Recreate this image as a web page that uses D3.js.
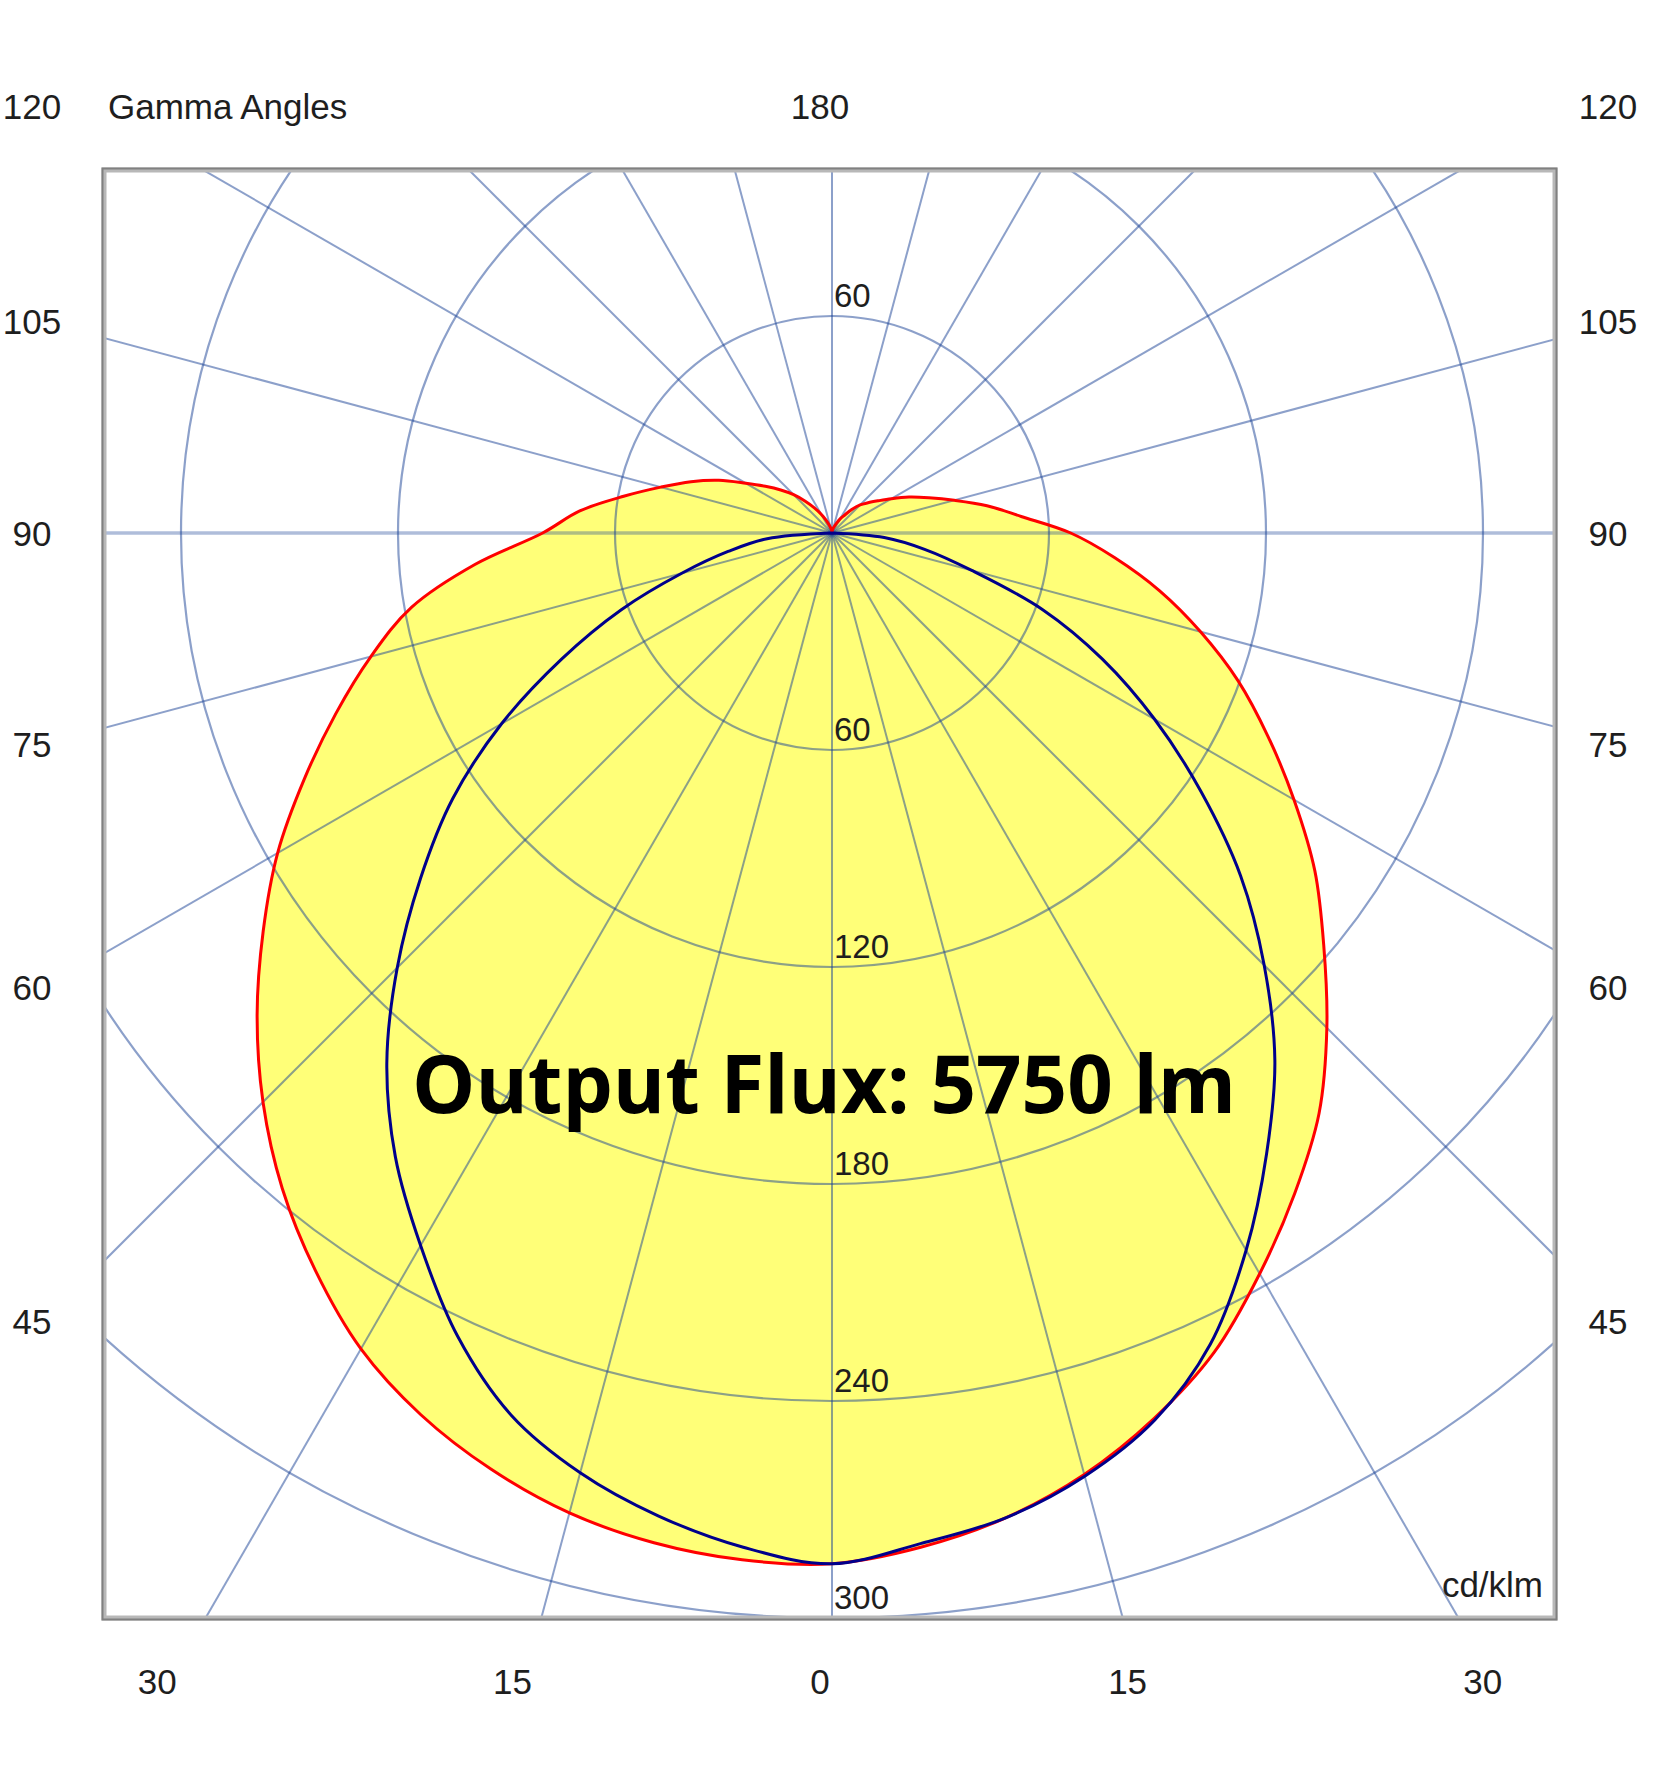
<!DOCTYPE html>
<html><head><meta charset="utf-8">
<script src="https://cdn.jsdelivr.net/npm/d3@7/dist/d3.min.js"></script>
<style>body{margin:0;background:#fff}</style>
</head><body><svg id="c" width="1666" height="1775"></svg>
<script>
// ---------- data (cd/klm) ----------
const gammaAngles = [0,5,10,15,20,25,30,35,40,45,50,55,60,65,70,75,80,85,90,95,100,105,110,115,120,125,130,135,140,145,150,155,160,165,170,175,180];
// red curve, right half (C0) and left half (C180)
const redC0   = [285,281.5,276.5,269.5,260.5,250,236.5,223,209.5,193.5,177.5,163,147.5,133,119.5,105.5,92,78.5,66,52.5,43.5,35,28.5,23.5,19,15.5,13,11,8.5,6,4.5,3,2,1.5,1,0.5,0];
const redC180 = [285,285,283.5,280.5,275.5,269,260.5,249,236.5,222.5,207.5,192,177,161,146,132,118,99,80,70,58.5,49,41.5,34.5,27.5,22.5,18.5,15,11.5,8.5,6,4,2.5,1.5,1,0.5,0];
// blue curve, right half (C90) and left half (C270)
const blueC90  = [285,280.5,276.5,270,261,247.5,229,209.5,190.5,169,147.5,124.5,103,82.5,62,40,26,14.5,0,0,0,0,0,0,0,0,0,0,0,0,0,0,0,0,0,0,0];
const blueC270 = [285,281.5,276,269,259.5,245,227.5,210.5,191.5,170,148.5,128,105.5,82.5,62,43,29,18,0,0,0,0,0,0,0,0,0,0,0,0,0,0,0,0,0,0,0];
const ringValues = [60,120,180,240,300];
const ringLabelsBelow = ["60","120","180","240","300"];
const ringLabelsAbove = ["60"];
const rayAngles = [0,15,30,45,60,75,90,105,120,135,150,165,180];
const sideLabels = [120,105,90,75,60,45];
const bottomLabels = [30,15,0];
const topLabel = "180";
const titleText = "Gamma Angles";
const unitText = "cd/klm";
const fluxText = "Output Flux: 5750 lm";

// ---------- layout ----------
const cx = 832, cy = 533;
const box = {x0:104, y0:170, x1:1555, y1:1618};
const svg = d3.select("#c");
const r = d3.scaleLinear().domain([0,300]).range([0,1085]);
const rad = d => d*Math.PI/180;

svg.append("rect").attr("width",1666).attr("height",1775).attr("fill","#fff");
svg.append("clipPath").attr("id","clip").append("rect")
  .attr("x",box.x0).attr("y",box.y0).attr("width",box.x1-box.x0).attr("height",box.y1-box.y0);

const plot = svg.append("g").attr("clip-path","url(#clip)");
const g = plot.append("g").attr("transform",`translate(${cx},${cy})`);

function halfPoints(values, side){ // side +1 right, -1 left
  return gammaAngles.map((ga,i)=>({a: side>0 ? Math.PI - rad(ga) : Math.PI + rad(ga), v: values[i]}));
}
function closedPoints(right, left){
  const R = halfPoints(right, 1).slice().reverse(); // 180 -> 0 on right
  const L = halfPoints(left, -1).slice(1, -1);      // 5 -> 175 on left
  return R.concat(L);
}
const lineR = d3.lineRadial().angle(d=>d.a).radius(d=>r(d.v)).curve(d3.curveCatmullRomClosed.alpha(0.5));

const redPts = closedPoints(redC0, redC180);
const bluePts = closedPoints(blueC90, blueC270);

// yellow fill
g.append("path").attr("d", lineR(redPts)).attr("fill","#ffff78").attr("stroke","none");

// grid rings
const gridCol = "rgb(25,65,150)";
g.selectAll("circle.ring").data(ringValues).join("circle").attr("class","ring")
  .attr("r", d=>r(d)).attr("fill","none").attr("stroke",gridCol).attr("stroke-opacity",0.5).attr("stroke-width",2.2);

// radial rays
const rays = [];
rayAngles.forEach(ga=>{ rays.push({ga, a: Math.PI - rad(ga)}); if(ga>0 && ga<180) rays.push({ga, a: Math.PI + rad(ga)}); });
g.selectAll("line.ray").data(rays).join("line").attr("class","ray")
  .attr("x1",0).attr("y1",0)
  .attr("x2",d=>2500*Math.sin(d.a)).attr("y2",d=>-2500*Math.cos(d.a))
  .attr("stroke",gridCol)
  .attr("stroke-opacity",d=>d.ga===90?0.35:0.5)
  .attr("stroke-width",d=>d.ga===90?3.5:2);

// curves
g.append("path").attr("d", lineR(redPts)).attr("fill","none").attr("stroke","#ff0000").attr("stroke-width",3).attr("stroke-linejoin","round");
g.append("path").attr("d", lineR(bluePts)).attr("fill","none").attr("stroke","#00008b").attr("stroke-width",3).attr("stroke-linejoin","round");

// border
svg.append("rect").attr("x",box.x0).attr("y",box.y0).attr("width",box.x1-box.x0).attr("height",box.y1-box.y0)
  .attr("fill","none").attr("stroke","#b8b8b8").attr("stroke-width",5);
svg.append("rect").attr("x",box.x0-1.5).attr("y",box.y0-1.5).attr("width",box.x1-box.x0+3).attr("height",box.y1-box.y0+3)
  .attr("fill","none").attr("stroke","#808080").attr("stroke-width",2);

// ring labels
const fontFam = "'Liberation Sans', Arial, sans-serif";
const textCol = "#1e1e1e";
g.selectAll("text.rlb").data(ringValues).join("text").attr("class","rlb")
  .attr("x",2).attr("y",d=>r(d)-9).text((d,i)=>ringLabelsBelow[i])
  .attr("font-family",fontFam).attr("font-size",33).attr("fill",textCol);
g.selectAll("text.rla").data(ringLabelsAbove).join("text").attr("class","rla")
  .attr("x",2).attr("y",(d,i)=>-r(ringValues[i])-9).text(d=>d)
  .attr("font-family",fontFam).attr("font-size",33).attr("fill",textCol);

// outer angle labels
const labelCx = 820, colHalf = 788, topY = 106, bottomY = 1681;
const outer = [];
sideLabels.forEach(ga=>{
  const y = Math.max(topY, cy + colHalf/Math.tan(rad(ga)));
  outer.push({t:String(ga), x: labelCx-colHalf, y});
  outer.push({t:String(ga), x: labelCx+colHalf, y});
});
bottomLabels.forEach(ga=>{
  const dx = (bottomY-cy)*Math.tan(rad(ga));
  outer.push({t:String(ga), x: labelCx-dx, y: bottomY});
  if(ga>0) outer.push({t:String(ga), x: labelCx+dx, y: bottomY});
});
outer.push({t: topLabel, x: labelCx, y: topY});
svg.selectAll("text.out").data(outer).join("text").attr("class","out")
  .attr("x",d=>d.x).attr("y",d=>d.y).attr("text-anchor","middle").attr("dominant-baseline","central")
  .text(d=>d.t).attr("font-family",fontFam).attr("font-size",35).attr("fill",textCol);

svg.append("text").attr("x",108).attr("y",topY).attr("dominant-baseline","central")
  .text(titleText).attr("font-family",fontFam).attr("font-size",35).attr("fill",textCol);
svg.append("text").attr("x",1543).attr("y",1597).attr("text-anchor","end")
  .text(unitText).attr("font-family",fontFam).attr("font-size",35).attr("fill",textCol);

// flux annotation
svg.append("text").attr("x",412).attr("y",1113)
  .attr("textLength",824).attr("lengthAdjust","spacingAndGlyphs")
  .text(fluxText).attr("font-family","'Open Sans', 'Noto Sans', sans-serif").attr("font-weight",700)
  .attr("font-size",80).attr("fill","#000");
</script>
</body></html>
